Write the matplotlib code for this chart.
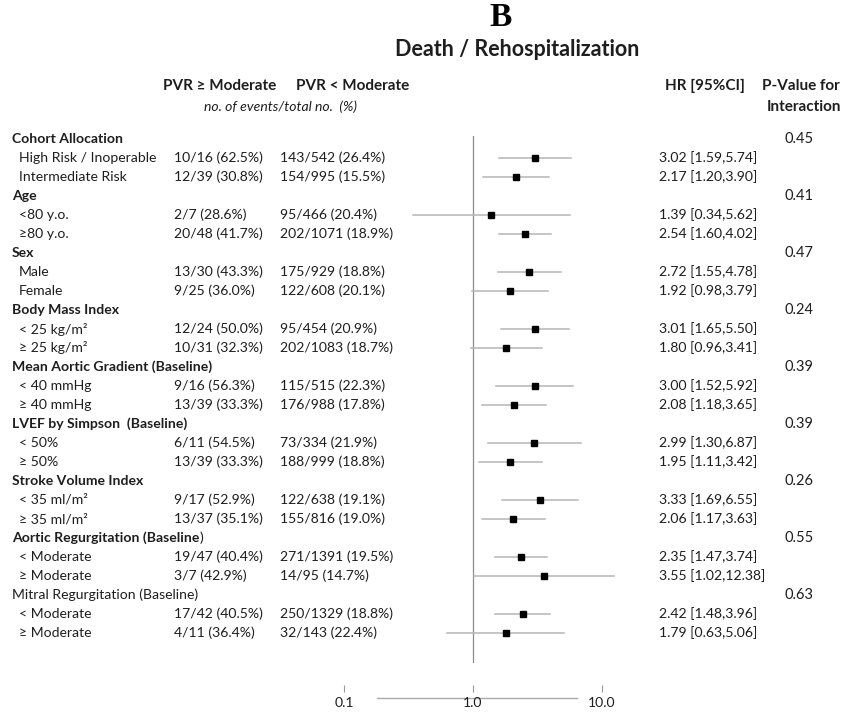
import matplotlib
matplotlib.use("Agg")
import matplotlib.pyplot as plt
from matplotlib.transforms import blended_transform_factory

plt.rcParams['font.family'] = ['Lato', 'DejaVu Sans']

# group headers: (label, p-value for interaction)
groups = ["Cohort Allocation", "Age", "Sex", "Body Mass Index",
          "Mean Aortic Gradient (Baseline)", "LVEF by Simpson  (Baseline)",
          "Stroke Volume Index", "Aortic Regurgitation (Baseline",
          "Mitral Regurgitation (Baseline)"]
p_values = ["0.45", "0.41", "0.47", "0.24", "0.39", "0.39", "0.26", "0.55", "0.63"]

subgroups = [["High Risk / Inoperable", "Intermediate Risk"],
             ["<80 y.o.", "\u226580 y.o."],
             ["Male", "Female"],
             ["< 25 kg/m\u00b2", "\u2265 25 kg/m\u00b2"],
             ["< 40 mmHg", "\u2265 40 mmHg"],
             ["< 50%", "\u2265 50%"],
             ["< 35 ml/m\u00b2", "\u2265 35 ml/m\u00b2"],
             ["< Moderate", "\u2265 Moderate"],
             ["< Moderate", "\u2265 Moderate"]]

pvr_high = ["10/16 (62.5%)", "12/39 (30.8%)", "2/7 (28.6%)", "20/48 (41.7%)",
            "13/30 (43.3%)", "9/25 (36.0%)", "12/24 (50.0%)", "10/31 (32.3%)",
            "9/16 (56.3%)", "13/39 (33.3%)", "6/11 (54.5%)", "13/39 (33.3%)",
            "9/17 (52.9%)", "13/37 (35.1%)", "19/47 (40.4%)", "3/7 (42.9%)",
            "17/42 (40.5%)", "4/11 (36.4%)"]
pvr_low = ["143/542 (26.4%)", "154/995 (15.5%)", "95/466 (20.4%)", "202/1071 (18.9%)",
           "175/929 (18.8%)", "122/608 (20.1%)", "95/454 (20.9%)", "202/1083 (18.7%)",
           "115/515 (22.3%)", "176/988 (17.8%)", "73/334 (21.9%)", "188/999 (18.8%)",
           "122/638 (19.1%)", "155/816 (19.0%)", "271/1391 (19.5%)", "14/95 (14.7%)",
           "250/1329 (18.8%)", "32/143 (22.4%)"]

hr = [3.02, 2.17, 1.39, 2.54, 2.72, 1.92, 3.01, 1.80, 3.00, 2.08,
      2.99, 1.95, 3.33, 2.06, 2.35, 3.55, 2.42, 1.79]
ci_low = [1.59, 1.20, 0.34, 1.60, 1.55, 0.98, 1.65, 0.96, 1.52, 1.18,
          1.30, 1.11, 1.69, 1.17, 1.47, 1.02, 1.48, 0.63]
ci_high = [5.74, 3.90, 5.62, 4.02, 4.78, 3.79, 5.50, 3.41, 5.92, 3.65,
           6.87, 3.42, 6.55, 3.63, 3.74, 12.38, 3.96, 5.06]

scale_ticks = [0.1, 1.0, 10.0]

W, H = 844, 712
TXT = '#1e1e1e'
fig = plt.figure(figsize=(W / 100, H / 100), dpi=100)

# full-figure axes in pixel units for text placement
ax_txt = fig.add_axes([0, 0, 1, 1])
ax_txt.set_xlim(0, W)
ax_txt.set_ylim(H, 0)
ax_txt.axis('off')

# forest plot axes, rows are 19 px apart starting at y=139
row0, step = 139, 19
top_px, bot_px = 136, 663
left_px, dec_px = 344, 129
ax = fig.add_axes([left_px / W, 1 - bot_px / H, 2 * dec_px / W, (bot_px - top_px) / H])
ax.set_xscale('log')
ax.set_xlim(0.1, 10)
ax.set_ylim((bot_px - row0) / step, (top_px - row0) / step)
ax.axis('off')
ax.patch.set_alpha(0)
ax.axvline(1.0, color='#8c8c8c', lw=0.9)

tr = blended_transform_factory(ax_txt.transData, ax.transData)
fs = 10.1
hfs = 11.0

row = 0
k = 0
for gi, g in enumerate(groups):
    weight = 'normal' if g.startswith("Mitral") else 'bold'
    t = ax_txt.text(12, row, g, transform=tr, fontsize=fs, fontweight=weight,
                    color=TXT, va='center', ha='left')
    if g.endswith("(Baseline"):
        ax_txt.annotate(")", xy=(1, 0), xycoords=t, fontsize=fs, color=TXT,
                        va='bottom', ha='left')
    ax_txt.text(799, row, p_values[gi], transform=tr, fontsize=fs + 0.4, color=TXT,
                va='center', ha='center')
    row += 1
    for s in subgroups[gi]:
        ax_txt.text(19, row, s, transform=tr, fontsize=fs, color=TXT, va='center')
        ax_txt.text(174, row, pvr_high[k], transform=tr, fontsize=fs, color=TXT, va='center')
        ax_txt.text(280, row, pvr_low[k], transform=tr, fontsize=fs, color=TXT, va='center')
        ax_txt.text(659, row, f"{hr[k]:.2f} [{ci_low[k]:.2f},{ci_high[k]:.2f}]",
                    transform=tr, fontsize=fs, color=TXT, va='center')
        ax.plot([ci_low[k], ci_high[k]], [row, row], color='#b5b5b5', lw=1.1,
                clip_on=False, zorder=2)
        ax.plot(hr[k], row, marker='s', ms=4.6, color='black', clip_on=False, zorder=3)
        row += 1
        k += 1

# titles and column headers
ax_txt.text(501, 18, "B", fontsize=24, fontweight='bold', family='Liberation Serif',
            ha='center', va='center', color='black')
ax_txt.text(517, 50, "Death / Rehospitalization", fontsize=15.5, fontweight='bold',
            ha='center', va='center', color=TXT)
ax_txt.text(163, 86, "PVR \u2265 Moderate", fontsize=hfs, fontweight='bold', color=TXT, va='center')
ax_txt.text(296, 86, "PVR < Moderate", fontsize=hfs, fontweight='bold', color=TXT, va='center')
ax_txt.text(204, 107, "no. of events/total no.  (%)", fontsize=fs, style='italic',
            color=TXT, va='center')
ax_txt.text(665, 86, "HR [95%CI]", fontsize=hfs, fontweight='bold', color=TXT, va='center')
ax_txt.text(801, 86, "P-Value for", fontsize=hfs, fontweight='bold', color=TXT,
            va='center', ha='center')
ax_txt.text(804, 107, "Interaction", fontsize=hfs, fontweight='bold', color=TXT,
            va='center', ha='center')

# bottom scale
sc_bot = 692
ax_sc = fig.add_axes([left_px / W, 1 - sc_bot / H, 2 * dec_px / W, 6 / H])
ax_sc.set_xscale('log')
ax_sc.set_xlim(0.1, 10)
ax_sc.set_xticks(scale_ticks)
ax_sc.set_xticklabels([f"{v:.1f}" for v in scale_ticks])
ax_sc.minorticks_off()
ax_sc.set_yticks([])
for sp in ax_sc.spines.values():
    sp.set_visible(False)
ax_sc.patch.set_alpha(0)
ax_sc.tick_params(axis='x', direction='in', length=5, width=0.8, color='#999999',
                  labelsize=fs, labelcolor=TXT, pad=3.5)
ax_txt.plot([377, 577], [698, 698], color='#aaaaaa', lw=1.0)

fig.savefig("out.png", dpi=100)
